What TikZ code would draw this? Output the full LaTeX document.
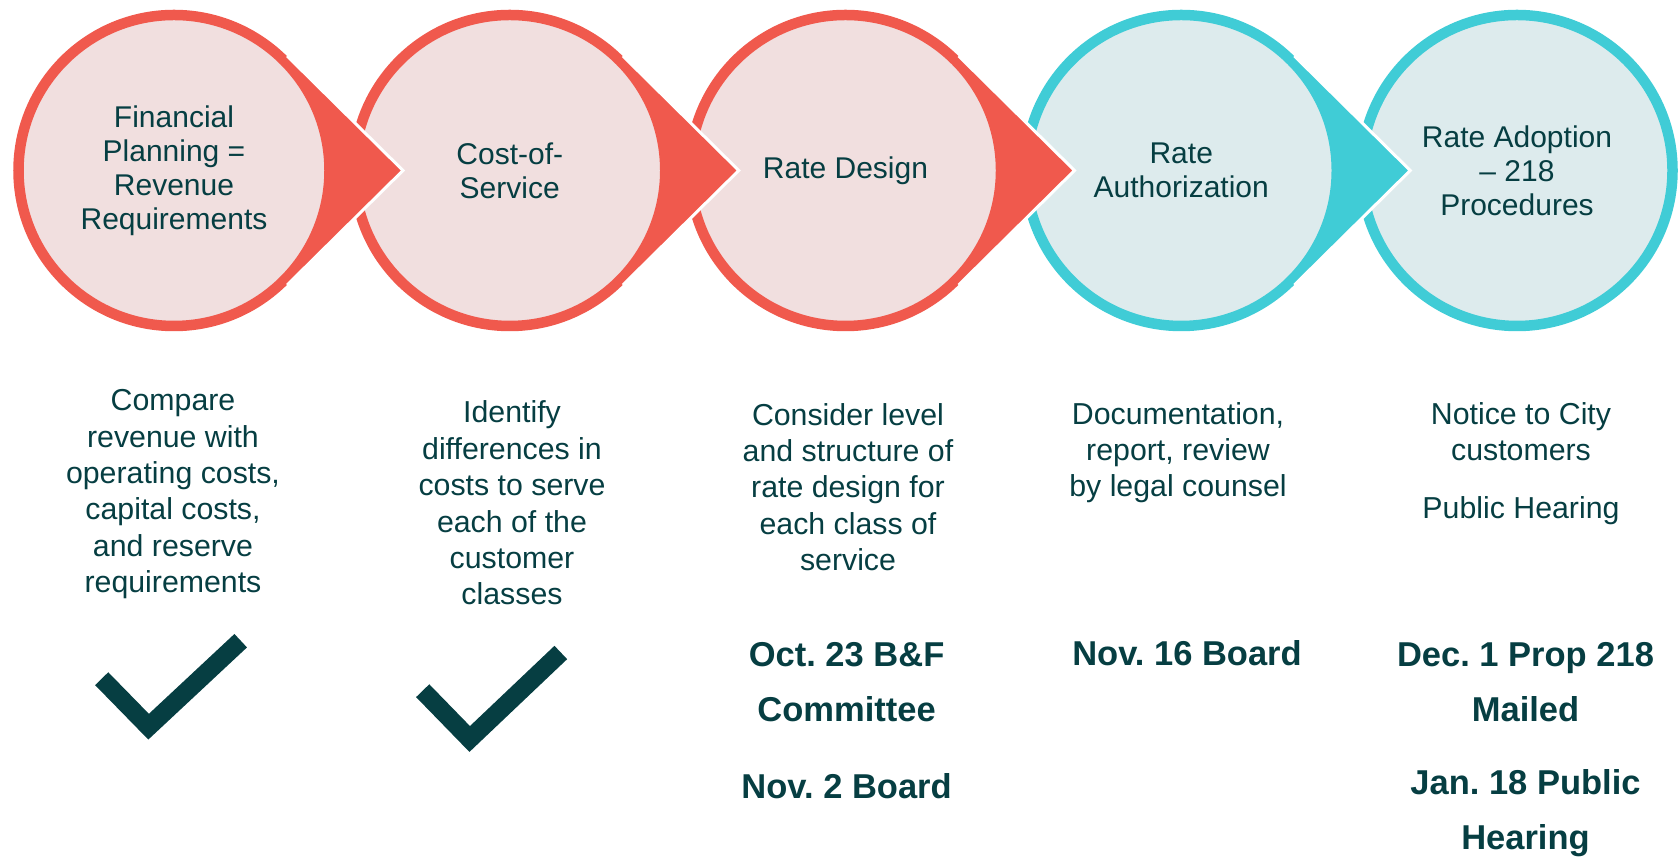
\documentclass[tikz,border=0pt]{standalone}
\usepackage{fontspec}
\setmainfont{Liberation Sans}
\usepackage{tikz}
\usetikzlibrary{calc}
\definecolor{redring}{RGB}{240,89,77}
\definecolor{redfill}{RGB}{241,223,223}
\definecolor{tealring}{RGB}{64,204,214}
\definecolor{tealfill}{RGB}{221,235,237}
\definecolor{ink}{RGB}{6,62,66}
\frenchspacing

\begin{document}
\begin{tikzpicture}[x=1pt,y=1pt,node distance=335.75pt,text=ink]
  \tikzstyle{stage} = [circle, inner sep=0pt, minimum size=311pt,
    line width=10.5pt, align=center, font=\fontsize{30}{34}\selectfont]
  \tikzstyle{redstage} = [stage, draw=redring, fill=redfill]
  \tikzstyle{tealstage} = [stage, draw=tealring, fill=tealfill]
  \tikzstyle{desc} = [anchor=base, inner sep=0pt, align=center,
    font=\fontsize{30.3}{36.4}\selectfont]
  \tikzstyle{date} = [anchor=base, inner sep=0pt, align=center,
    font=\fontsize{34.5}{55}\selectfont\bfseries]
  \tikzstyle{tick} = [draw=ink, line width=18.4pt, miter limit=4]
  \useasboundingbox (0,0) rectangle (1678,861);

  % the five steps
  \node[redstage]  (1) at (174,690.5) {Financial\\Planning =\\Revenue\\Requirements};
  \node[redstage]  (2) [right of=1]   {Cost-of-\\Service};
  \node[redstage]  (3) [right of=2]   {Rate Design};
  \node[tealstage] (4) [right of=3]   {Rate\\Authorization};
  \node[tealstage] (5) [right of=4]   {Rate Adoption\\– 218\\Procedures};

  % pointers, laid over the next circle (the arc runs inside the ring)
  \foreach \i/\c in {1/redring,2/redring,3/redring,4/tealring}{
    \fill[\c] ($(\i)+(45.33:161)$) -- ($(\i)+(229,0)$) -- ($(\i)+(-45.33:161)$)
      -- ($(\i)+(-45.33:155)$) arc[start angle=-45.33, end angle=45.33, radius=155]
      -- cycle;
    \draw[white, line width=3pt]
      ($(\i)+(45.33:161)$) -- ($(\i)+(229,0)$) -- ($(\i)+(-45.33:161)$);
  }

  % what each step does
  \node[desc] (Desc1) at (173,268.3)  {Compare\\revenue with\\operating costs,\\capital costs,\\and reserve\\requirements};
  \node[desc] (Desc2) at (512,256)    {Identify\\differences in\\costs to serve\\each of the\\customer\\classes};
  \node[desc] (Desc3) at (848,290.3)  {Consider level\\and structure of\\rate design for\\each class of\\service};
  \node[desc] (Desc4) at (1178,364)   {Documentation,\\report, review\\by legal counsel};
  \node[desc] (Desc5) at (1521,342.7) {Notice to City\\customers\\[21pt]Public Hearing};

  % dates
  \node[date] (Date3) at (846.6,139.3)    {Oct. 23 B\&F\\Committee};
  \node[date] (Board3) at (846.6,62)      {Nov. 2 Board};
  \node[date] (Date4) at (1187,195)       {Nov. 16 Board};
  \node[date] (Date5) at (1525.5,139.3)   {Dec. 1 Prop 218\\Mailed};
  \node[date] (Hearing5) at (1525.5,11)   {Jan. 18 Public\\Hearing};

  % done
  \draw[tick] (101.7,182.3) -- (148.6,134.3) -- (240.7,220.3);
  \draw[tick] (422.7,170.3) -- (469.7,122) -- (560.8,208.5);
\end{tikzpicture}
\end{document}
